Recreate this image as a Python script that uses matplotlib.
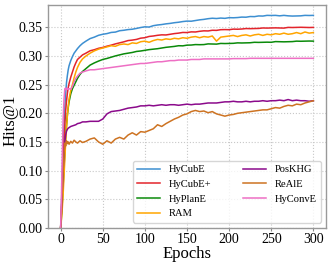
import matplotlib
matplotlib.use("Agg")
import matplotlib.pyplot as plt

plt.rcParams['font.family'] = ['Liberation Serif', 'DejaVu Serif']

epochs = [0, 1, 2, 3, 4, 5, 6, 7, 8, 9, 10, 12, 14, 16, 18, 20, 23, 26] + list(range(30, 301, 5))

hycube = [0.000, 0.040, 0.090, 0.140, 0.180, 0.212, 0.236, 0.254, 0.266, 0.276, 0.283, 0.292,
          0.299, 0.305, 0.309, 0.313, 0.318, 0.322,
          0.326, 0.3305, 0.333, 0.3362, 0.338, 0.3392, 0.3412, 0.3418, 0.3442, 0.345, 0.3462,
          0.3468, 0.3482, 0.3498, 0.351, 0.3506, 0.353, 0.3542, 0.355, 0.3562, 0.357, 0.3582,
          0.359, 0.3602, 0.361, 0.3608, 0.362, 0.3632, 0.364, 0.3652, 0.366, 0.3655, 0.3663,
          0.3658, 0.367, 0.3668, 0.3672, 0.368, 0.3678, 0.369, 0.3688, 0.370, 0.3698, 0.371,
          0.3708, 0.371, 0.3702, 0.371, 0.3702, 0.3698, 0.370, 0.3702, 0.371, 0.3708, 0.371]
hycube_plus = [0.000, 0.030, 0.070, 0.110, 0.150, 0.180, 0.205, 0.222, 0.235, 0.245, 0.252, 0.263,
               0.272, 0.281, 0.288, 0.294, 0.298, 0.302,
               0.305, 0.3092, 0.311, 0.3135, 0.315, 0.3172, 0.319, 0.3212, 0.323, 0.3248, 0.327,
               0.3278, 0.329, 0.3312, 0.332, 0.3342, 0.335, 0.3362, 0.337, 0.3368, 0.338, 0.3392,
               0.340, 0.3412, 0.341, 0.3422, 0.342, 0.3432, 0.344, 0.3438, 0.345, 0.3448, 0.346,
               0.3462, 0.346, 0.347, 0.3468, 0.3472, 0.348, 0.3478, 0.348, 0.3482, 0.349, 0.3488,
               0.349, 0.3492, 0.349, 0.3488, 0.350, 0.3498, 0.350, 0.3502, 0.350, 0.3498, 0.350]
hyplane = [0.000, 0.020, 0.045, 0.075, 0.105, 0.135, 0.160, 0.180, 0.197, 0.210, 0.220, 0.234,
           0.243, 0.249, 0.255, 0.261, 0.268, 0.273,
           0.278, 0.2842, 0.288, 0.2912, 0.294, 0.2958, 0.298, 0.3002, 0.302, 0.3038, 0.305,
           0.3062, 0.308, 0.3088, 0.310, 0.3112, 0.312, 0.3128, 0.314, 0.3152, 0.316, 0.3168,
           0.318, 0.3178, 0.319, 0.3192, 0.320, 0.3198, 0.320, 0.3212, 0.321, 0.3208, 0.322,
           0.3218, 0.322, 0.3222, 0.323, 0.3228, 0.323, 0.3232, 0.324, 0.3238, 0.324, 0.3242,
           0.324, 0.3252, 0.325, 0.3248, 0.325, 0.3252, 0.326, 0.3258, 0.326, 0.3262, 0.326]
ram = [0.000, 0.015, 0.035, 0.060, 0.090, 0.120, 0.150, 0.175, 0.196, 0.212, 0.225, 0.240,
       0.250, 0.262, 0.272, 0.280, 0.289, 0.295,
       0.300, 0.305, 0.309, 0.312, 0.314, 0.316, 0.318, 0.317, 0.320, 0.321, 0.320,
       0.323, 0.322, 0.325, 0.326, 0.324, 0.327, 0.329, 0.328, 0.330, 0.329, 0.331,
       0.330, 0.332, 0.331, 0.333, 0.334, 0.332, 0.334, 0.333, 0.335, 0.326, 0.333,
       0.334, 0.335, 0.336, 0.334, 0.336, 0.337, 0.335, 0.337, 0.338, 0.336, 0.338,
       0.337, 0.339, 0.338, 0.340, 0.338, 0.339, 0.341, 0.339, 0.342, 0.340, 0.341]
poskhg = [0.000, 0.030, 0.065, 0.100, 0.130, 0.150, 0.162, 0.169, 0.172, 0.174, 0.175, 0.177,
          0.178, 0.179, 0.180, 0.182, 0.183, 0.185,
          0.185, 0.186, 0.186, 0.186, 0.190, 0.199, 0.203, 0.204, 0.205, 0.207, 0.209,
          0.210, 0.211, 0.213, 0.213, 0.214, 0.213, 0.214, 0.215, 0.214, 0.215, 0.215,
          0.214, 0.215, 0.216, 0.215, 0.216, 0.216, 0.217, 0.218, 0.218, 0.218, 0.219,
          0.220, 0.220, 0.221, 0.220, 0.220, 0.221, 0.220, 0.221, 0.221, 0.222, 0.221,
          0.222, 0.222, 0.223, 0.222, 0.224, 0.222, 0.223, 0.222, 0.222, 0.221, 0.222]
reale = [0.000, 0.030, 0.065, 0.100, 0.130, 0.148, 0.143, 0.152, 0.147, 0.150, 0.146, 0.151,
         0.148, 0.153, 0.150, 0.148, 0.152, 0.149,
         0.151, 0.155, 0.157, 0.150, 0.146, 0.152, 0.148, 0.155, 0.158, 0.155, 0.162,
         0.166, 0.162, 0.168, 0.167, 0.170, 0.173, 0.180, 0.177, 0.182, 0.186, 0.190,
         0.193, 0.197, 0.199, 0.203, 0.205, 0.203, 0.204, 0.201, 0.203, 0.199, 0.197,
         0.195, 0.197, 0.198, 0.200, 0.201, 0.202, 0.203, 0.204, 0.205, 0.206, 0.206,
         0.208, 0.210, 0.209, 0.212, 0.214, 0.213, 0.216, 0.215, 0.218, 0.220, 0.222]
hyconve = [0.000, 0.060, 0.130, 0.190, 0.225, 0.243, 0.244, 0.241, 0.244, 0.242, 0.243, 0.242,
           0.247, 0.255, 0.261, 0.265, 0.270, 0.272,
           0.274, 0.276, 0.276, 0.277, 0.278, 0.279, 0.280, 0.281, 0.282, 0.283, 0.284,
           0.285, 0.286, 0.287, 0.287, 0.288, 0.289, 0.290, 0.290, 0.291, 0.292, 0.292,
           0.293, 0.293, 0.293, 0.294, 0.294, 0.294, 0.295, 0.295, 0.295, 0.295, 0.295,
           0.295, 0.295, 0.2955, 0.2955, 0.2955, 0.2955, 0.296, 0.296, 0.296, 0.296, 0.296,
           0.296, 0.296, 0.296, 0.296, 0.296, 0.296, 0.296, 0.296, 0.296, 0.296, 0.296]

series = [("HyCubE", hycube, "#3d8fd1"),
          ("HyCubE+", hycube_plus, "#e3242b"),
          ("HyPlanE", hyplane, "#0a8a0a"),
          ("RAM", ram, "#ffa500"),
          ("PosKHG", poskhg, "#8b0a8b"),
          ("ReAlE", reale, "#cd7322"),
          ("HyConvE", hyconve, "#ee6fc4")]

fig = plt.figure(figsize=(3.31, 2.64), dpi=100)
ax = fig.add_axes([0.145, 0.137, 0.84, 0.845])

for name, vals, col in series:
    ax.plot(epochs, vals, color=col, lw=1.1, label=name)

ax.set_ylim(bottom=0)
ax.set_xticks([0, 50, 100, 150, 200, 250, 300])
ax.set_yticks([0.0, 0.05, 0.10, 0.15, 0.20, 0.25, 0.30, 0.35])
ax.set_yticklabels(["%.2f" % t for t in ax.get_yticks()])
ax.tick_params(labelsize=10, color="#888888", length=2.5, pad=1.5)
ax.grid(True, linestyle=":", color="#c8c8c8", lw=0.8)
for s in ax.spines.values():
    s.set_color("#999999")
    s.set_linewidth(1.0)

ax.set_xlabel("Epochs", fontsize=12, labelpad=0)
ax.set_ylabel("Hits@1", fontsize=12)
ax.yaxis.set_label_coords(-0.105, 0.48)

ax.legend(ncol=2, loc="lower right", fontsize=7.6, columnspacing=3.0,
          handlelength=2.2, borderaxespad=0.5)

fig.savefig("out.png", dpi=100)
